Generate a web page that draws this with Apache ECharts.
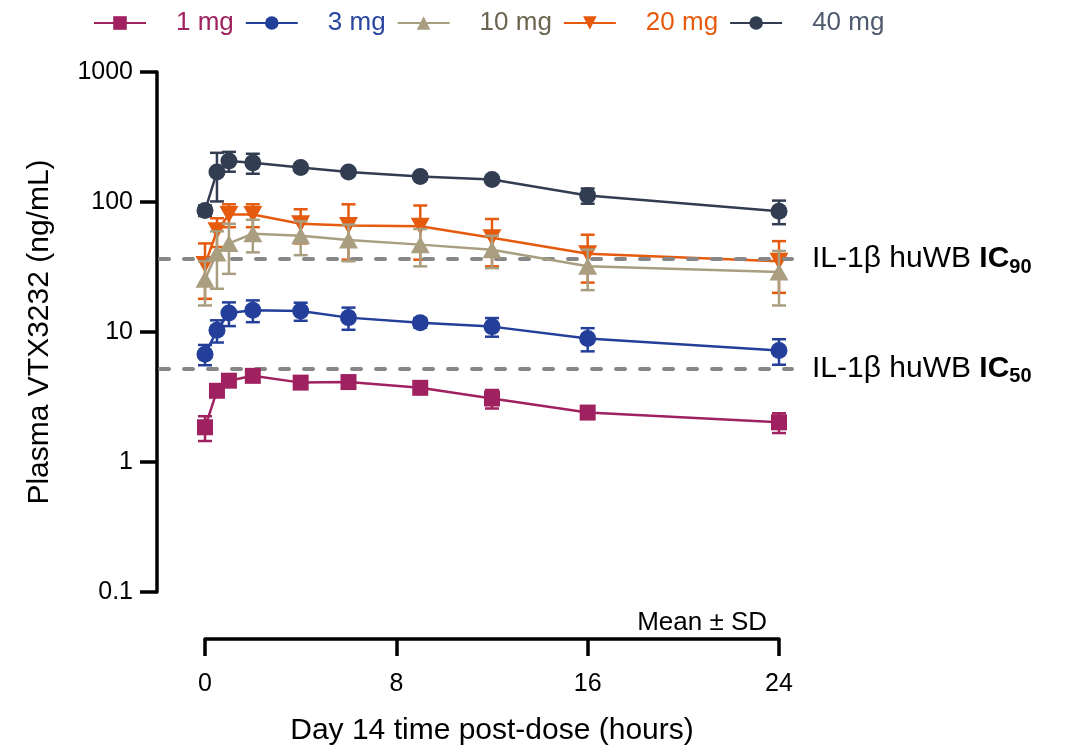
<!DOCTYPE html>
<html>
<head>
<meta charset="utf-8">
<title>Plasma VTX3232 – Day 14</title>
<script src="https://cdn.jsdelivr.net/npm/echarts@6/dist/echarts.min.js"></script>
<style>
  html, body { margin: 0; padding: 0; background: #ffffff; }
  #chart { width: 1066px; height: 751px; }
</style>
</head>
<body>
<div id="chart"></div>
<script>
// Sampling times after the Day 14 dose (hours)
const hours = [0, 0.5, 1, 2, 4, 6, 9, 12, 16, 24];

// Dose groups
const doseNames = ['1 mg', '3 mg', '10 mg', '20 mg', '40 mg'];

// Mean plasma concentration (ng/mL) and SD per dose group
const mean1mg  = [1.85, 3.53, 4.22, 4.6, 4.08, 4.12, 3.72, 3.08, 2.4, 2.02];
const sd1mg    = [0.4, 0.3, 0.3, 0.4, 0.3, 0.3, 0.3, 0.5, 0.25, 0.35];
const mean3mg  = [6.75, 10.3, 14.0, 14.7, 14.5, 12.9, 11.8, 11.0, 8.9, 7.2];
const sd3mg    = [1.2, 2.0, 2.9, 2.8, 2.3, 2.5, 1.0, 1.8, 1.8, 1.6];
const mean10mg = [25.5, 40.5, 48, 57, 55, 51, 47, 43, 32, 29];
const sd10mg   = [9.5, 19, 20, 16, 16, 16, 15, 12, 11, 13];
const mean20mg = [33, 60, 80, 80, 68, 66, 65, 53, 40, 35];
const sd20mg   = [15, 15, 16, 16, 20, 30, 29, 21, 16, 15];
const mean40mg = [86, 170, 207, 200, 184, 170, 157, 149, 112, 85];
const sd40mg   = [8, 69, 36, 35, 10, 10, 8, 8, 15, 17.5];

// IL-1β human whole blood potency thresholds (ng/mL)
const icValues = [38.4, 5.75];
const icSubscripts = ['90', '50'];

// Axis ticks
const xTicks = [0, 8, 16, 24];
const yTicks = [0.1, 1, 10, 100, 1000];

const FONT = "'Liberation Sans', Arial, Helvetica, sans-serif";

const groups = [
  { name: doseNames[0], mean: mean1mg,  sd: sd1mg,  color: '#A0215F', text: '#A0215F', symbol: 'rect', size: 16 },
  { name: doseNames[1], mean: mean3mg,  sd: sd3mg,  color: '#233F9A', text: '#2A46A0', symbol: 'circle', size: 17 },
  { name: doseNames[2], mean: mean10mg, sd: sd10mg, color: '#A99E7F', text: '#6B6450', symbol: 'triangle', size: [19, 17] },
  { name: doseNames[3], mean: mean20mg, sd: sd20mg, color: '#E65A0E', text: '#E65A0E', symbol: 'path://M0,0 L10,0 L5,9 Z', size: [19, 17] },
  { name: doseNames[4], mean: mean40mg, sd: sd40mg, color: '#323D51', text: '#4E5A6E', symbol: 'circle', size: 17 }
];

function errorBarSeries(g, z) {
  return {
    type: 'custom',
    name: g.name + ' SD',
    xAxisIndex: 0,
    yAxisIndex: 0,
    silent: true,
    z: z,
    data: hours.map((t, i) => [t, g.mean[i] - g.sd[i], g.mean[i] + g.sd[i]]),
    encode: { x: 0, y: [1, 2] },
    renderItem: function (params, api) {
      const lo = api.coord([api.value(0), api.value(1)]);
      const hi = api.coord([api.value(0), api.value(2)]);
      const w = 7;
      const st = { stroke: g.color, lineWidth: 2.5 };
      return {
        type: 'group',
        children: [
          { type: 'line', shape: { x1: lo[0], y1: lo[1], x2: hi[0], y2: hi[1] }, style: st },
          { type: 'line', shape: { x1: hi[0] - w, y1: hi[1], x2: hi[0] + w, y2: hi[1] }, style: st },
          { type: 'line', shape: { x1: lo[0] - w, y1: lo[1], x2: lo[0] + w, y2: lo[1] }, style: st }
        ]
      };
    }
  };
}

function meanSeries(g, z) {
  return {
    type: 'line',
    name: g.name,
    xAxisIndex: 0,
    yAxisIndex: 0,
    z: z,
    data: hours.map((t, i) => [t, g.mean[i]]),
    symbol: g.symbol,
    symbolSize: g.size,
    showSymbol: true,
    lineStyle: { color: g.color, width: 2.5 },
    itemStyle: { color: g.color },
    emphasis: { disabled: true }
  };
}

// Dashed threshold lines with their labels
const refSeries = {
  type: 'line',
  name: 'IC thresholds',
  xAxisIndex: 1,
  yAxisIndex: 1,
  z: 1,
  data: [],
  silent: true,
  markLine: {
    silent: true,
    symbol: ['none', 'none'],
    animation: false,
    lineStyle: { color: '#878787', width: 4, type: [9, 15], cap: 'round' },
    emphasis: { disabled: true },
    label: {
      show: true,
      position: 'end',
      distance: 20,
      rich: {
        n: { fontFamily: FONT, fontSize: 30, color: '#000', lineHeight: 32 },
        b: { fontFamily: FONT, fontSize: 30, fontWeight: 'bold', color: '#000', lineHeight: 32 },
        s: { fontFamily: FONT, fontSize: 20, fontWeight: 'bold', color: '#000', lineHeight: 20, padding: [16, 0, 0, 0] }
      }
    },
    data: icValues.map((v, i) => ({
      yAxis: v,
      label: { formatter: '{n|IL-1β huWB }{b|IC}{s|' + icSubscripts[i] + '}' }
    }))
  }
};

const series = [refSeries];
// higher doses first so that the lower-dose marks sit on top
[4, 3, 2, 1, 0].forEach((gi, k) => {
  series.push(errorBarSeries(groups[gi], 3 + k));
  series.push(meanSeries(groups[gi], 3 + k));
});

const axisTick = { show: true, inside: false, length: 17, lineStyle: { color: '#000', width: 3.5 } };

const option = {
  animation: false,
  backgroundColor: '#ffffff',
  textStyle: { fontFamily: FONT },
  legend: {
    left: 88,
    top: 5,
    itemWidth: 52,
    itemHeight: 17,
    itemGap: 11,
    selectedMode: false,
    textStyle: { fontFamily: FONT, fontSize: 26, padding: [0, 0, 0, 25] },
    data: groups.map(g => ({ name: g.name, textStyle: { color: g.text } }))
  },
  grid: [
    { left: 205, right: 287, top: 72, bottom: 150, containLabel: false },
    { left: 160, right: 274, top: 72, bottom: 150, containLabel: false }
  ],
  xAxis: [
    {
      type: 'value',
      gridIndex: 0,
      min: xTicks[0],
      max: xTicks[xTicks.length - 1],
      interval: xTicks[1] - xTicks[0],
      offset: 47,
      axisLine: { show: true, onZero: false, lineStyle: { color: '#000', width: 3.5 } },
      axisTick: axisTick,
      splitLine: { show: false },
      axisLabel: { color: '#000', fontSize: 25, fontFamily: FONT, margin: 33 },
      name: 'Day 14 time post-dose (hours)',
      nameLocation: 'middle',
      nameGap: 77,
      nameTextStyle: { color: '#000', fontSize: 30, fontFamily: FONT }
    },
    { type: 'value', gridIndex: 1, min: 0, max: 1, show: false }
  ],
  yAxis: [
    {
      type: 'log',
      gridIndex: 0,
      logBase: 10,
      min: yTicks[0],
      max: yTicks[yTicks.length - 1],
      splitNumber: yTicks.length - 1,
      offset: 48,
      axisLine: { show: true, onZero: false, lineStyle: { color: '#000', width: 3.5 } },
      axisTick: axisTick,
      splitLine: { show: false },
      axisLabel: {
        color: '#000', fontSize: 25, fontFamily: FONT, margin: 24,
        formatter: v => String(+Number(v).toPrecision(3))
      },
      name: 'Plasma VTX3232 (ng/mL)',
      nameLocation: 'middle',
      nameGap: 102,
      nameTextStyle: { color: '#000', fontSize: 30, fontFamily: FONT }
    },
    { type: 'log', gridIndex: 1, logBase: 10, min: yTicks[0], max: yTicks[yTicks.length - 1], show: false }
  ],
  graphic: [
    {
      type: 'text',
      x: 767,
      y: 623,
      silent: true,
      style: {
        text: 'Mean ± SD',
        fill: '#000',
        font: '26px ' + FONT,
        textAlign: 'right',
        textVerticalAlign: 'middle'
      }
    }
  ],
  series: series
};

const chart = echarts.init(document.getElementById('chart'), null, { renderer: 'canvas' });
chart.setOption(option);
</script>
</body>
</html>
